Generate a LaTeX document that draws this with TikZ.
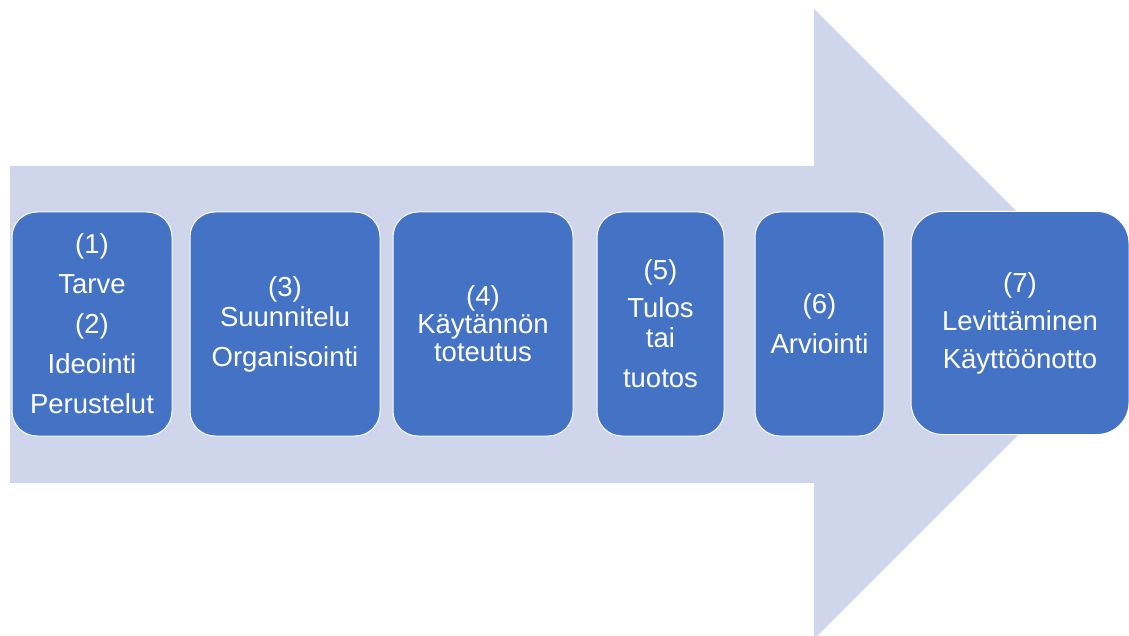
\documentclass[tikz,border=0pt]{standalone}
\usepackage{fontspec}
\setmainfont{Liberation Sans}
\usepackage{tikz}
\definecolor{pale}{HTML}{CFD5EA}
\definecolor{stageblue}{HTML}{4472C4}

\begin{document}
\begin{tikzpicture}[x=1pt,y=-1pt,
  stage/.style={rectangle,rounded corners=25pt,fill=stageblue,draw=white,line width=1pt,
    text=white,align=center,inner sep=0pt,minimum height=224pt,
    font=\fontsize{27.5}{40}\selectfont}]
\useasboundingbox (0,0) rectangle (1129,636);
% big arrow behind the stages
\fill[pale] (10,166) -- (814,166) -- (814,9) -- (1129,324) -- (814,639) -- (814,483) -- (10,483) -- cycle;

\node[stage,minimum width=160pt] (tarve) at (92,324) {(1)\\Tarve\\(2)\\Ideointi\\Perustelut};
\node[stage,minimum width=190pt] (suunnitelu) at (285,324) {(3)\\[-10pt]Suunnitelu\\Organisointi};
\node[stage,minimum width=180pt] (toteutus) at (483,324) {(4)\\[-12pt]Käytännön\\[-12pt]toteutus};
\node[stage,minimum width=127pt] (tulos) at (660.5,324) {(5)\\[-2pt]Tulos\\[-10pt]tai\\tuotos};
\node[stage,minimum width=129pt] (arviointi) at (819.5,324) {(6)\\Arviointi};
\node[stage,minimum width=218pt,minimum height=223pt,rounded corners=32pt] (levittaminen) at (1020,323) {(7)\\[-2pt]Levittäminen\\[-2pt]Käyttöönotto};
\end{tikzpicture}
\end{document}
